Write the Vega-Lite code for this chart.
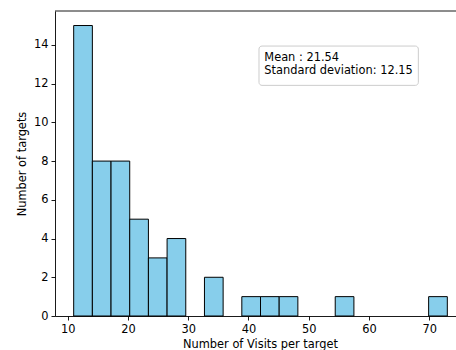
{
  "$schema": "https://vega.github.io/schema/vega-lite/v6.json",
  "width": 401,
  "height": 305,
  "autosize": {"type": "none"},
  "padding": {"left": 55, "top": 11, "right": 0, "bottom": 34},
  "background": "white",
  "config": {
    "view": {"stroke": null},
    "font": "DejaVu Sans",
    "axis": {
      "grid": false,
      "labelFont": "DejaVu Sans",
      "titleFont": "DejaVu Sans",
      "labelFontSize": 11.4,
      "titleFontSize": 11.4,
      "titleFontWeight": "normal",
      "labelColor": "#000000",
      "titleColor": "#000000",
      "domainColor": "#000000",
      "tickColor": "#000000",
      "domainWidth": 0.9,
      "tickWidth": 0.9,
      "tickSize": 4,
      "labelPadding": 3
    }
  },
  "datasets": {
    "hist": [
      {"bin_start": 11.0, "bin_end": 14.1, "count": 15},
      {"bin_start": 14.1, "bin_end": 17.2, "count": 8},
      {"bin_start": 17.2, "bin_end": 20.3, "count": 8},
      {"bin_start": 20.3, "bin_end": 23.4, "count": 5},
      {"bin_start": 23.4, "bin_end": 26.5, "count": 3},
      {"bin_start": 26.5, "bin_end": 29.6, "count": 4},
      {"bin_start": 29.6, "bin_end": 32.7, "count": 0},
      {"bin_start": 32.7, "bin_end": 35.8, "count": 2},
      {"bin_start": 35.8, "bin_end": 38.9, "count": 0},
      {"bin_start": 38.9, "bin_end": 42.0, "count": 1},
      {"bin_start": 42.0, "bin_end": 45.1, "count": 1},
      {"bin_start": 45.1, "bin_end": 48.2, "count": 1},
      {"bin_start": 48.2, "bin_end": 51.3, "count": 0},
      {"bin_start": 51.3, "bin_end": 54.4, "count": 0},
      {"bin_start": 54.4, "bin_end": 57.5, "count": 1},
      {"bin_start": 57.5, "bin_end": 60.6, "count": 0},
      {"bin_start": 60.6, "bin_end": 63.7, "count": 0},
      {"bin_start": 63.7, "bin_end": 66.8, "count": 0},
      {"bin_start": 66.8, "bin_end": 69.9, "count": 0},
      {"bin_start": 69.9, "bin_end": 73.0, "count": 1}
    ],
    "one": [{"mean": 21.54, "sd": 12.15}]
  },
  "layer": [
    {
      "data": {"name": "hist"},
      "transform": [{"filter": "datum.count > 0"}],
      "mark": {"type": "bar", "fill": "#87CEEB", "stroke": "#000000", "strokeWidth": 1},
      "encoding": {
        "x": {
          "field": "bin_start",
          "type": "quantitative",
          "scale": {"domain": [7.9, 74.44], "nice": false, "zero": false},
          "axis": {"values": [10, 20, 30, 40, 50, 60, 70], "title": "Number of Visits per target", "titleX": 205, "titlePadding": 4}
        },
        "x2": {"field": "bin_end"},
        "y": {
          "field": "count",
          "type": "quantitative",
          "scale": {"domain": [0, 15.75], "nice": false},
          "axis": {"values": [0, 2, 4, 6, 8, 10, 12, 14], "title": "Number of targets", "titlePadding": 6}
        },
        "y2": {"datum": 0}
      }
    },
    {
      "data": {"name": "one"},
      "mark": {"type": "rule", "color": "#000000", "strokeWidth": 0.9},
      "encoding": {"y": {"datum": 15.75}}
    },
    {
      "data": {"name": "one"},
      "mark": {"type": "rect", "fill": "#ffffff", "stroke": "#cccccc", "strokeWidth": 1, "cornerRadius": 3},
      "encoding": {
        "x": {"datum": 41.75},
        "x2": {"datum": 68.19},
        "y": {"datum": 13.94},
        "y2": {"datum": 11.91}
      }
    },
    {
      "data": {"name": "one"},
      "mark": {
        "type": "text",
        "text": ["Mean : 21.54", "Standard deviation: 12.15"],
        "align": "left",
        "baseline": "alphabetic",
        "font": "DejaVu Sans",
        "fontSize": 11.4,
        "lineHeight": 13,
        "color": "#000000"
      },
      "encoding": {
        "x": {"datum": 42.63},
        "y": {"datum": 13.19}
      }
    }
  ]
}
